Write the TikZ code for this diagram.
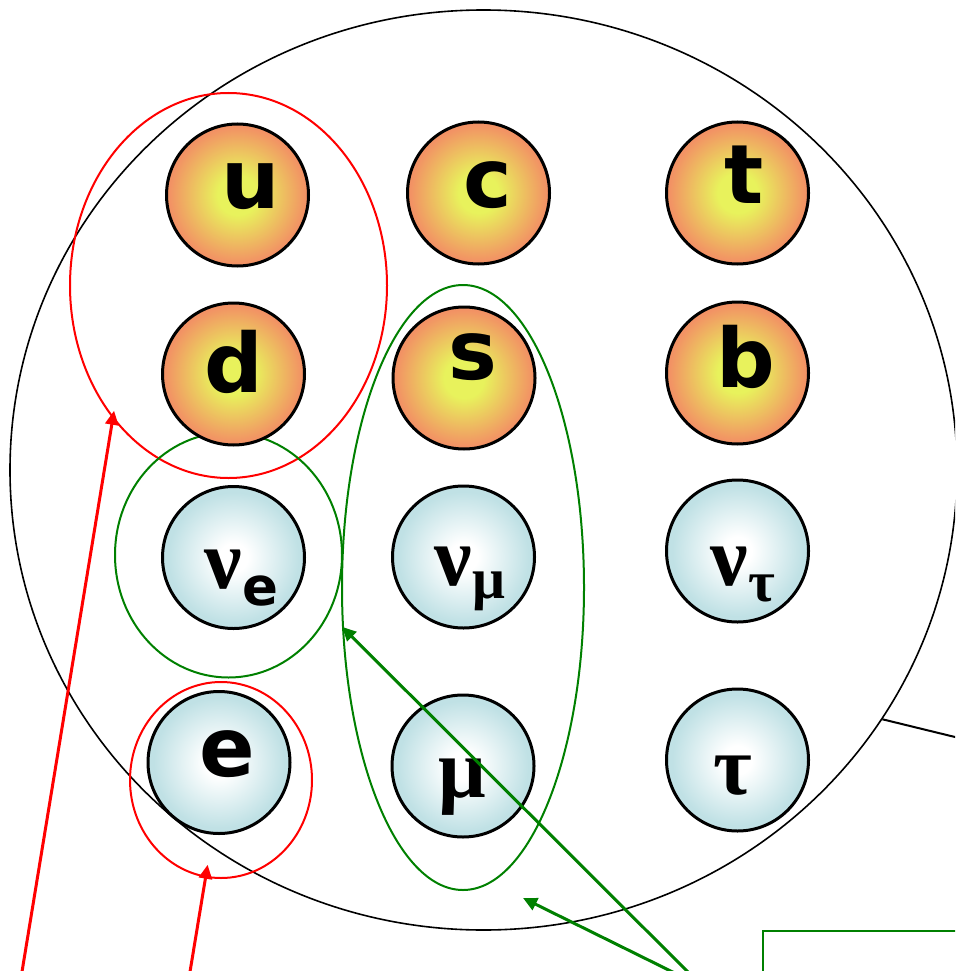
\documentclass[tikz,border=0pt]{standalone}
\usepackage{fontspec}
\setsansfont{DejaVu Sans}
\newfontfamily\greekfont{Liberation Serif}
\usetikzlibrary{shapes.geometric,arrows.meta}

\definecolor{qin}{RGB}{232,242,92}
\definecolor{qout}{RGB}{242,146,100}
\definecolor{lin}{RGB}{255,255,255}
\definecolor{lout}{RGB}{192,225,229}
\definecolor{grp}{RGB}{0,128,0}
\pgfdeclareradialshading{quarkball}{\pgfpoint{0bp}{0bp}}{color(0bp)=(qin); color(7bp)=(qin); color(24bp)=(qout); color(25bp)=(qout); color(50bp)=(qout)}
\pgfdeclareradialshading{leptonball}{\pgfpoint{0bp}{0bp}}{color(0bp)=(lin); color(5bp)=(lin); color(23bp)=(lout); color(25bp)=(lout); color(50bp)=(lout)}

\begin{document}
\begin{tikzpicture}[x=1pt, y=-1pt,
    particle/.style={circle, draw=black, line width=3pt, minimum size=142pt, inner sep=0pt},
    quark/.style={particle, shade, shading=quarkball},
    lepton/.style={particle, shade, shading=leptonball},
    lat/.style={font=\fontsize{82}{82}\selectfont\sffamily\bfseries, inner sep=0pt},
    grk/.style={font=\fontsize{84}{84}\selectfont\greekfont\bfseries, inner sep=0pt},
    family/.style={ellipse, draw=#1, line width=2pt, inner sep=0pt},
    pointer/.style={draw=#1, line width=3pt, -{Triangle[length=14pt,width=13pt]}},
]
\useasboundingbox (0,0) rectangle (955,971);
\clip (0,0) rectangle (955,971);

% generation circle and groupings
\node [ellipse, draw, line width=1.6pt, inner sep=0pt, minimum width=947pt, minimum height=920pt] (gen) at (483.5,470) {};
\node [family=red, minimum width=317pt, minimum height=385pt] (r1) at (228.5,285.5) {};
\node [family=red, minimum width=182pt, minimum height=196pt] (r2) at (221,780) {};
\node [family=grp, minimum width=227pt, minimum height=245pt] (g1) at (228.5,555) {};
\node [family=grp, minimum width=242pt, minimum height=605pt] (g2) at (463,587.5) {};

% quarks
\node [quark, label={[lat, shift={(13,-8.5)}]center:u}] (u) at (237.5,195) {};
\node [quark, label={[lat, shift={(9.5,-7.5)}]center:c}] (c) at (478.5,193) {};
\node [quark, label={[lat, shift={(6.5,-18.5)}]center:t}] (t) at (737.5,193) {};
\node [quark, label={[lat, shift={(0,-12)}]center:d}] (d) at (233.5,374) {};
\node [quark, label={[lat, shift={(8.5,-20.5)}]center:s}] (s) at (464,378) {};
\node [quark, label={[lat, shift={(8,-16)}]center:b}] (b) at (737.5,373) {};

% leptons
\node [lepton, label={[grk, shift={(8,20.5)}]center:ν\raisebox{-17pt}{\fontsize{53}{53}\selectfont\sffamily e}}] (ne) at (233.5,557.5) {};
\node [lepton, label={[grk, shift={(6.5,21.5)}]center:ν\raisebox{-13pt}{\fontsize{58}{58}\selectfont μ}}] (nm) at (463.5,557) {};
\node [lepton, label={[grk, shift={(5.5,23)}]center:ν\raisebox{-16pt}{\fontsize{58}{58}\selectfont τ}}] (nt) at (737.5,551) {};
\node [lepton, label={[lat, shift={(8.5,-8)}]center:e}] (e) at (219,762.5) {};
\node [lepton, label={[grk, shift={(-1,21.5)}]center:μ}] (m) at (463,766) {};
\node [lepton, label={[grk, shift={(-5,16)}]center:τ}] (ta) at (737.5,760) {};

% callouts
\node [draw=grp, line width=2pt, anchor=north west, minimum width=300pt, minimum height=120pt] (box) at (762,930) {};
\coordinate (p1) at (19,990);
\coordinate (p2) at (187,990);
\coordinate (p3) at (703,987);
\coordinate (p4) at (1000,748);
\coordinate (gtip) at (523,898);

\draw [pointer=red, shorten >=-8pt] (p1) -- (r1.229.9);
\draw [pointer=red, shorten >=-13pt] (p2) -- (r2.261.5);
\draw [pointer=grp] (p3) -- (g2.198.1);
\draw [pointer=grp] (p3) -- (gtip);
\draw [line width=2pt] (gen.-32.4) -- (p4);
\end{tikzpicture}
\end{document}
